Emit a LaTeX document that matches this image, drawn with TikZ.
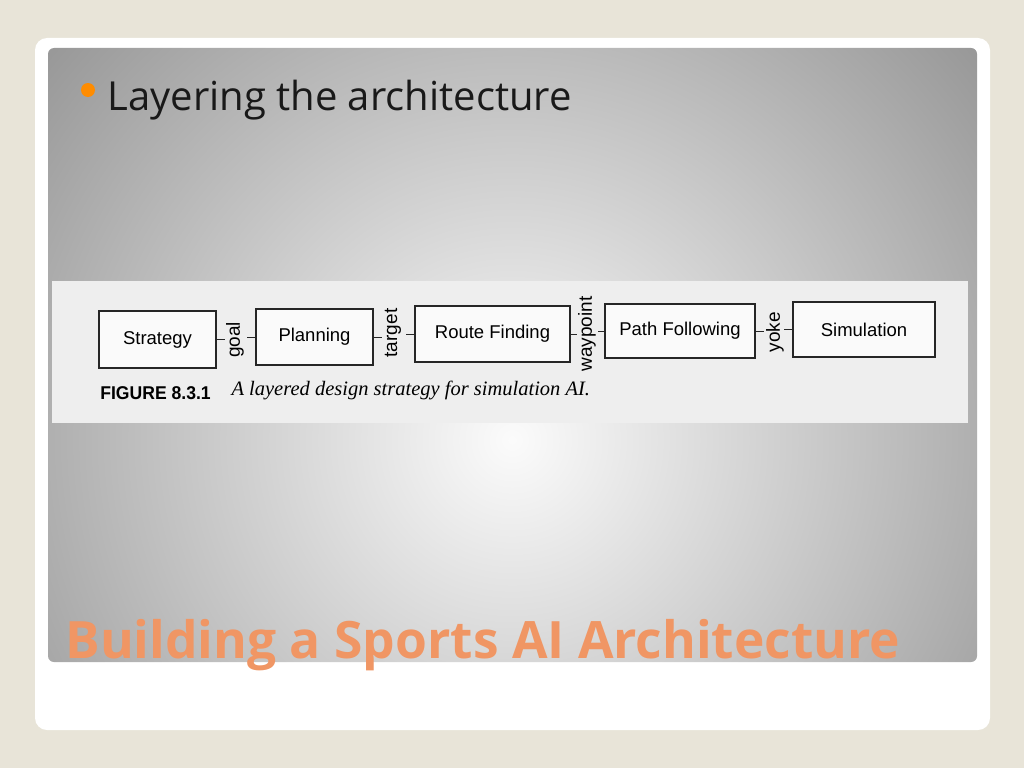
\documentclass[tikz,border=0pt]{standalone}
\usepackage{fontspec}
\setmainfont{Open Sans}
\newfontfamily\figsans{Liberation Sans}
\newfontfamily\figserif{Liberation Serif}
\begin{document}
\begin{tikzpicture}[x=1pt,y=-1pt,
  box/.style={draw=black!85,line width=1.3pt,fill=white!96!gray,inner sep=0pt,font=\figsans\fontsize{18.5}{18.5}\selectfont},
  lab/.style={rotate=90,font=\figsans\fontsize{19}{19}\selectfont,inner sep=1pt},
  con/.style={draw=black!85,line width=1pt}]
\useasboundingbox (0,0) rectangle (1024,768);
\fill[color={rgb,255:red,232;green,228;blue,216}] (0,0) rectangle (1024,768);
\fill[white,rounded corners=12pt] (35,38) rectangle (990,730);
\begin{scope}
\clip[rounded corners=6pt] (48,48) rectangle (977,662);
\shade[inner color=white!97!gray,outer color={rgb,255:red,150;green,150;blue,150}] (512,440) circle (620);
\end{scope}
\fill[orange!90!yellow] (88,90) circle (7);
\node[anchor=west,font=\fontsize{40}{40}\selectfont,text=black!90] (bul) at (104,100) {Layering the architecture};
\node[anchor=west,font=\bfseries\fontsize{51.5}{51.5}\selectfont,text={rgb,255:red,240;green,150;blue,100}] (title) at (62,645) {Building a Sports AI Architecture};
\fill[color={rgb,255:red,238;green,238;blue,238}] (52,281) rectangle (968,423);
\node[box,minimum width=117,minimum height=57] (s) at (157.5,339.5) {Strategy};
\node[box,minimum width=117,minimum height=56] (p) at (314.5,337) {Planning};
\node[box,minimum width=155,minimum height=56] (r) at (492.5,334) {Route Finding};
\node[box,minimum width=150,minimum height=54] (f) at (680,331) {Path Following};
\node[box,minimum width=142,minimum height=55] (m) at (864,329.5) {Simulation};
\node[lab] (g) at (235,340) {goal};
\node[lab] (t) at (393,333) {target};
\node[lab] (w) at (587,334) {waypoint};
\node[lab] (y) at (775,332) {yoke};
\draw[con] (s.east) -- ++(8,0); \draw[con] (p.west) -- ++(-8,0);
\draw[con] (p.east) -- ++(8,0); \draw[con] (r.west) -- ++(-8,0);
\draw[con] (r.east) -- ++(6,0); \draw[con] (f.west) -- ++(-6,0);
\draw[con] (f.east) -- ++(8,0); \draw[con] (m.west) -- ++(-8,0);
\node[anchor=west,font=\figsans\bfseries\fontsize{18.5}{18.5}\selectfont,xscale=0.95] (fig) at (97,393) {FIGURE 8.3.1};
\node[anchor=west,font=\figserif\itshape\fontsize{20.5}{20.5}\selectfont] (cap) at (228,390) {A layered design strategy for simulation AI.};
\end{tikzpicture}
\end{document}
